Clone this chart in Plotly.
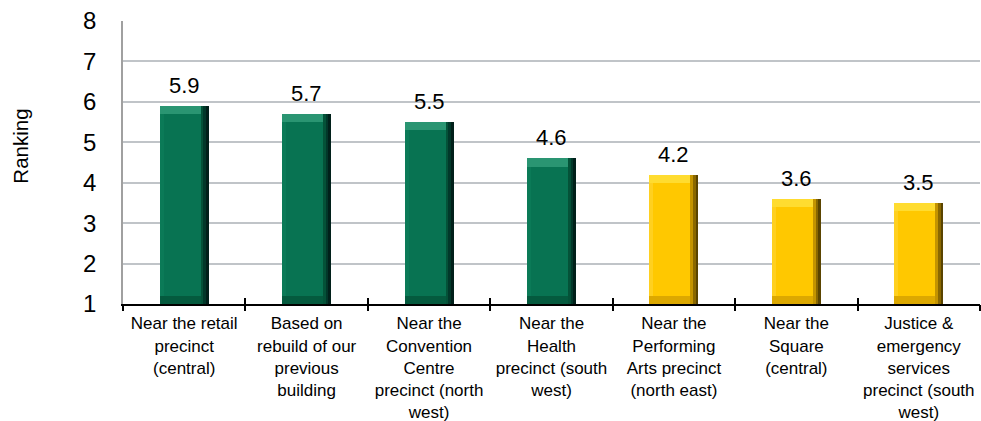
import plotly.graph_objects as go

# Survey results: average ranking of preferred locations
categories = [
    "Near the retail<br>precinct<br>(central)",
    "Based on<br>rebuild of our<br>previous<br>building",
    "Near the<br>Convention<br>Centre<br>precinct (north<br>west)",
    "Near the<br>Health<br>precinct (south<br>west)",
    "Near the<br>Performing<br>Arts precinct<br>(north east)",
    "Near the<br>Square<br>(central)",
    "Justice &<br>emergency<br>services<br>precinct (south<br>west)",
]
rankings = [5.9, 5.7, 5.5, 4.6, 4.2, 3.6, 3.5]
groups = ["green", "green", "green", "green", "gold", "gold", "gold"]

y_min, y_max = 1, 8
boundaries = [i - 0.5 for i in range(len(categories) + 1)]

# bevel palette per colour group
palette = {
    "green": dict(edge1="#01201a", edge2="#02382a", edge3="#045238",
                  left="#0b7a57", bottom="#045a3e", top="#2a9572", face="#087352"),
    "gold": dict(edge1="#5a4400", edge2="#8a6800", edge3="#c49400",
                 left="#ffd020", bottom="#dca800", top="#ffdc30", face="#ffc800"),
}

def cols(key):
    return [palette[g][key] for g in groups]

xs = list(range(len(categories)))
W = 0.4      # bar width in category units
b = 0.065    # side bevel thickness
bv = 0.2     # top/bottom bevel thickness (value units)

heights = [v - y_min for v in rankings]

fig = go.Figure()

def add_layer(base, y, width, offset, key):
    fig.add_trace(go.Bar(
        x=xs, y=y, base=base, width=width, offset=offset,
        marker=dict(color=cols(key), line=dict(width=0)),
        hoverinfo="skip", showlegend=False,
    ))

n = len(xs)
add_layer([y_min] * n, heights, W, -W / 2, "edge1")
add_layer([y_min] * n, heights, W - b / 3, -W / 2, "edge2")
add_layer([y_min] * n, heights, W - 2 * b / 3, -W / 2, "edge3")
add_layer([y_min] * n, heights, W - b, -W / 2, "left")
add_layer([y_min] * n, [bv] * n, W - b, -W / 2, "bottom")
add_layer([v - bv for v in rankings], [bv] * n, W - b, -W / 2, "top")
add_layer([y_min + bv] * n, [h - 2 * bv for h in heights], W - 1.5 * b, -W / 2 + b / 2, "face")

# value labels above each bar
for x, v in zip(xs, rankings):
    fig.add_annotation(
        x=x, y=v, text=f"{v:.1f}", showarrow=False,
        xanchor="center", yanchor="bottom", yshift=6,
        font=dict(size=22, color="#000000"),
    )

# invisible helpers so the tick-mark axes are drawn
fig.add_trace(go.Scatter(x=[boundaries[0]], y=[y_min], xaxis="x2", mode="markers",
                         marker=dict(opacity=0), hoverinfo="skip", showlegend=False))
fig.add_trace(go.Scatter(x=[boundaries[0]], y=[y_min], xaxis="x3", mode="markers",
                         marker=dict(opacity=0), hoverinfo="skip", showlegend=False))

fig.add_annotation(
    text="Ranking", xref="paper", yref="paper", x=-0.119, y=0.556,
    textangle=-90, showarrow=False, xanchor="center", yanchor="middle",
    font=dict(size=20.5, color="#000000"),
)

xr = [boundaries[0], boundaries[-1]]
fig.update_layout(
    width=981, height=421,
    margin=dict(l=123, r=1, t=21, b=117, autoexpand=False),
    barmode="overlay",
    bargap=0,
    paper_bgcolor="white", plot_bgcolor="white",
    font=dict(family="Liberation Sans, Arial, sans-serif", color="#000000"),
    xaxis=dict(
        range=xr, tickmode="array", tickvals=xs, ticktext=categories,
        ticks="", showgrid=False, zeroline=False, automargin=False,
        showline=True, linecolor="#000000", linewidth=2,
        tickfont=dict(size=17), ticklabelstandoff=3,
    ),
    xaxis2=dict(
        range=xr, overlaying="x", anchor="y", side="bottom",
        tickmode="array", tickvals=boundaries, ticks="outside",
        ticklen=6, tickwidth=2, tickcolor="#000000", automargin=False,
        showticklabels=False, showgrid=False, zeroline=False, showline=False,
    ),
    xaxis3=dict(
        range=xr, overlaying="x", anchor="y", side="bottom",
        tickmode="array", tickvals=boundaries, ticks="inside",
        ticklen=6, tickwidth=2, tickcolor="#000000", automargin=False,
        showticklabels=False, showgrid=False, zeroline=False, showline=False,
    ),
    yaxis=dict(
        range=[y_min, y_max], tickmode="linear", tick0=1, dtick=1,
        showgrid=True, gridcolor="#c0c4c8", gridwidth=1.5,
        showline=True, linecolor="#a0a0a0", linewidth=1.5, automargin=False,
        zeroline=False, ticks="", tickfont=dict(size=24),
        ticklabelstandoff=20,
    ),
)

fig.write_html("out.html")
